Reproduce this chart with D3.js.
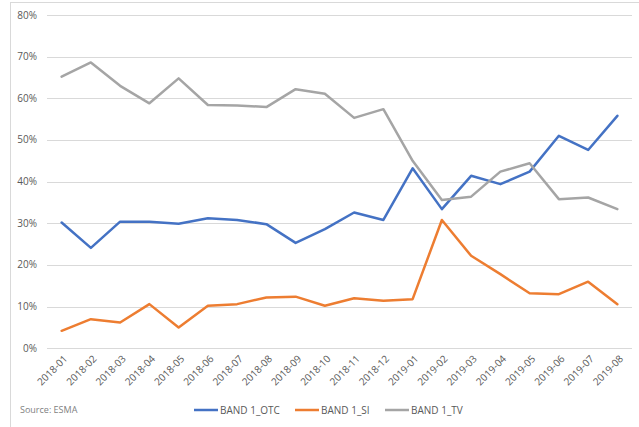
<!DOCTYPE html>
<html>
<head>
<meta charset="utf-8">
<script src="https://cdnjs.cloudflare.com/ajax/libs/d3/7.8.5/d3.min.js"></script>
<style>
  body { margin: 0; background: #fff; }
  svg { display: block; font-family: "Open Sans", "Noto Sans", sans-serif; }
</style>
</head>
<body>
<svg id="chart"></svg>
<script>
var months = ["2018-01","2018-02","2018-03","2018-04","2018-05","2018-06","2018-07","2018-08","2018-09","2018-10",
              "2018-11","2018-12","2019-01","2019-02","2019-03","2019-04","2019-05","2019-06","2019-07","2019-08"];
var otc = [30.2,24.1,30.4,30.4,29.9,31.2,30.8,29.8,25.3,28.6,32.6,30.8,43.2,33.4,41.4,39.4,42.4,51.0,47.6,55.8];
var si  = [4.2,7.0,6.2,10.6,5.0,10.2,10.6,12.2,12.4,10.2,12.0,11.4,11.8,30.8,22.2,17.8,13.2,13.0,16.0,10.6];
var tv  = [65.2,68.6,63.0,58.8,64.8,58.4,58.3,57.9,62.2,61.1,55.3,57.4,45.0,35.6,36.4,42.4,44.4,35.8,36.2,33.4];
var seriesNames = ["BAND 1_OTC", "BAND 1_SI", "BAND 1_TV"];
var yTicks = [0,10,20,30,40,50,60,70,80];

var width = 639, height = 427;
var colors = ["#4472C4", "#ED7D31", "#A5A5A5"];
var series = [otc, si, tv];

var svg = d3.select("#chart").attr("width", width).attr("height", height);

// outer chart frame
svg.append("rect")
    .attr("x", 10.5).attr("y", 2.5)
    .attr("width", 700).attr("height", 500)
    .style("fill", "none")
    .style("stroke", "#D9D9D9");

var x = d3.scaleBand().domain(months).range([47, 632]);
var y = d3.scaleLinear().domain([0, 80]).range([348.3, 15]);

// gridlines
svg.append("g").selectAll("line")
    .data(yTicks)
    .enter().append("line")
    .attr("x1", 47).attr("x2", 632)
    .attr("y1", function(d) { return Math.round(y(d)) + 0.5; })
    .attr("y2", function(d) { return Math.round(y(d)) + 0.5; })
    .style("stroke", "#D9D9D9")
    .style("stroke-width", "1px");

// y labels
svg.append("g").selectAll("text")
    .data(yTicks)
    .enter().append("text")
    .attr("x", 37)
    .attr("y", function(d) { return y(d); })
    .attr("dy", "0.35em")
    .attr("text-anchor", "end")
    .style("font-size", "10px")
    .style("fill", "#595959")
    .text(function(d) { return d + "%"; });

// x labels, rotated
svg.append("g").selectAll("text")
    .data(months)
    .enter().append("text")
    .attr("transform", function(d) {
        var cx = x(d) + x.bandwidth() / 2 + 4;
        return "translate(" + cx + ",357) rotate(-45)";
    })
    .attr("text-anchor", "end")
    .attr("dy", "0.35em")
    .style("font-size", "10px")
    .style("fill", "#595959")
    .text(function(d) { return d; });

var line = d3.line()
    .x(function(d, i) { return x(months[i]) + x.bandwidth() / 2; })
    .y(function(d) { return y(d); });

series.forEach(function(s, i) {
    svg.append("path")
        .datum(s)
        .attr("d", line)
        .style("fill", "none")
        .style("stroke", colors[i])
        .style("stroke-width", "2.5px")
        .style("stroke-linejoin", "round")
        .style("stroke-linecap", "round");
});

// source note
svg.append("text")
    .attr("x", 20).attr("y", 410)
    .attr("dy", "0.35em")
    .style("font-size", "9px")
    .style("fill", "#7F7F7F")
    .text("Source: ESMA");

// legend
var legendX = [194, 295, 385];
seriesNames.forEach(function(name, i) {
    var g = svg.append("g").attr("transform", "translate(" + legendX[i] + ",410)");
    g.append("line")
        .attr("x1", 0).attr("x2", 24)
        .style("stroke", colors[i])
        .style("stroke-width", "2.5px");
    g.append("text")
        .attr("x", 26)
        .attr("dy", "0.35em")
        .style("font-size", "10px")
        .style("fill", "#595959")
        .text(name);
});
</script>
</body>
</html>
